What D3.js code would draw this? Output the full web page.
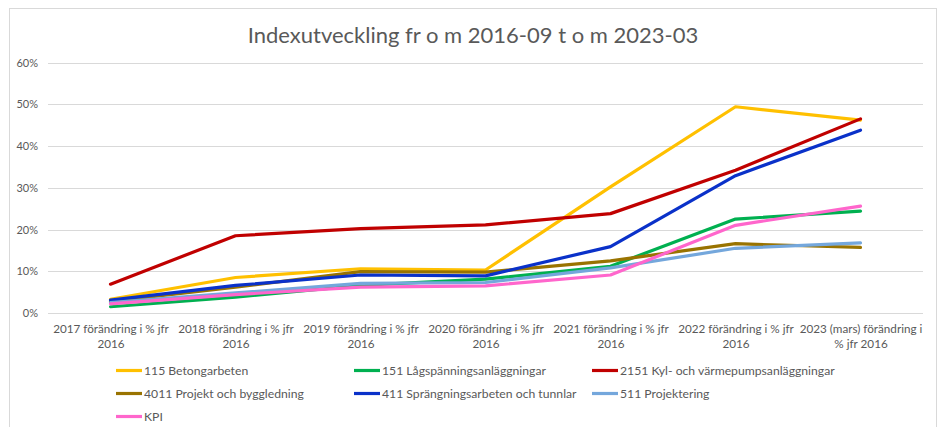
<!DOCTYPE html>
<html>
<head>
<meta charset="utf-8">
<script src="https://cdn.jsdelivr.net/npm/d3@7"></script>
<style>
  body { margin: 0; background: #fff; }
  text { font-family: Lato, "Open Sans", sans-serif; }
</style>
</head>
<body>
<div id="chart"></div>
<script>
// categories (x axis), "\n" marks the line break of the tick label
const categories = [
    "2017 förändring i % jfr\n2016",
    "2018 förändring i % jfr\n2016",
    "2019 förändring i % jfr\n2016",
    "2020 förändring i % jfr\n2016",
    "2021 förändring i % jfr\n2016",
    "2022 förändring i % jfr\n2016",
    "2023 (mars) förändring i\n% jfr 2016"
];

const seriesNames = [
    "115 Betongarbeten",
    "151 Lågspänningsanläggningar",
    "2151 Kyl- och värmepumpsanläggningar",
    "4011 Projekt och byggledning",
    "411 Sprängningsarbeten och tunnlar",
    "511 Projektering",
    "KPI"
];

const seriesColors = ["#FFC000", "#00B050", "#C00000", "#997300", "#0A31C9", "#74A7DC", "#FF66CC"];

// values in percent
const betong    = [3.3, 8.5, 10.6, 10.3, 30.2, 49.4, 46.2];
const lagsp     = [1.5, 3.8, 6.6, 8.1, 11.2, 22.5, 24.4];
const kyl       = [6.9, 18.5, 20.2, 21.1, 23.8, 34.2, 46.5];
const projekt   = [2.8, 6.2, 9.9, 9.8, 12.5, 16.6, 15.7];
const spranging = [3.1, 6.6, 9.1, 8.9, 15.9, 32.9, 43.8];
const projekter = [2.5, 4.8, 7.1, 7.3, 10.8, 15.5, 16.8];
const kpi       = [2.2, 4.4, 6.2, 6.5, 9.1, 21.0, 25.6];

const seriesValues = [betong, lagsp, kyl, projekt, spranging, projekter, kpi];

const yTicks = [0, 10, 20, 30, 40, 50, 60];

const title = "Indexutveckling fr o m 2016-09 t o m 2023-03";

const W = 942, H = 427;
const margin = { top: 62.5, right: 19, bottom: 114, left: 48 };

const svg = d3.select("#chart").append("svg")
    .attr("width", W)
    .attr("height", H);

// chart frame
svg.append("rect")
    .attr("x", 9.5).attr("y", 8.5)
    .attr("width", 927).attr("height", 440)
    .attr("fill", "#fff")
    .attr("stroke", "#D9D9D9");

const x = d3.scalePoint()
    .domain(categories)
    .range([margin.left, W - margin.right])
    .padding(0.5);

const y = d3.scaleLinear()
    .domain([0, 60])
    .range([H - margin.bottom, margin.top]);

// gridlines
svg.append("g")
    .selectAll("line")
    .data(yTicks)
    .join("line")
    .attr("x1", margin.left)
    .attr("x2", W - margin.right)
    .attr("y1", d => Math.round(y(d)) + 0.5)
    .attr("y2", d => Math.round(y(d)) + 0.5)
    .attr("stroke", "#D9D9D9")
    .attr("stroke-width", 1);

// y axis labels
const yAxis = svg.append("g")
    .attr("transform", `translate(${margin.left},0)`)
    .call(d3.axisLeft(y).tickValues(yTicks).tickFormat(d => d + "%").tickSize(0).tickPadding(10));
yAxis.select(".domain").remove();
yAxis.selectAll("text")
    .attr("fill", "#595959")
    .style("font-family", "Lato, sans-serif")
    .style("font-size", "11px");

// x axis labels (two lines)
const xAxis = svg.append("g")
    .attr("transform", `translate(0,${H - margin.bottom})`)
    .call(d3.axisBottom(x).tickSize(0).tickFormat(""));
xAxis.select(".domain").remove();
xAxis.selectAll(".tick").append("text")
    .attr("fill", "#595959")
    .attr("text-anchor", "middle")
    .style("font-size", "11.7px")
    .selectAll("tspan")
    .data(d => d.split("\n"))
    .join("tspan")
    .attr("x", 0)
    .attr("y", (d, i) => 20 + i * 15)
    .text(d => d);

// lines
const line = d3.line()
    .x((d, i) => x(categories[i]))
    .y(d => y(d));

svg.append("g")
    .selectAll("path")
    .data(seriesValues)
    .join("path")
    .attr("d", line)
    .attr("fill", "none")
    .attr("stroke", (d, i) => seriesColors[i])
    .attr("stroke-width", 3.2)
    .attr("stroke-linejoin", "round")
    .attr("stroke-linecap", "round");

// title
svg.append("text")
    .attr("x", 473)
    .attr("y", 43)
    .attr("text-anchor", "middle")
    .attr("fill", "#595959")
    .style("font-size", "22px")
    .text(title);

// legend
const legend = svg.append("g")
    .selectAll("g")
    .data(seriesNames)
    .join("g")
    .attr("transform", (d, i) => `translate(${116 + (i % 3) * 238},${370.5 + Math.floor(i / 3) * 23})`);

legend.append("line")
    .attr("x1", 0).attr("x2", 26)
    .attr("stroke", (d, i) => seriesColors[i])
    .attr("stroke-width", 3.2);

legend.append("text")
    .attr("x", 28)
    .attr("dy", "0.35em")
    .attr("fill", "#595959")
    .style("font-size", "12.2px")
    .text(d => d);
</script>
</body>
</html>
